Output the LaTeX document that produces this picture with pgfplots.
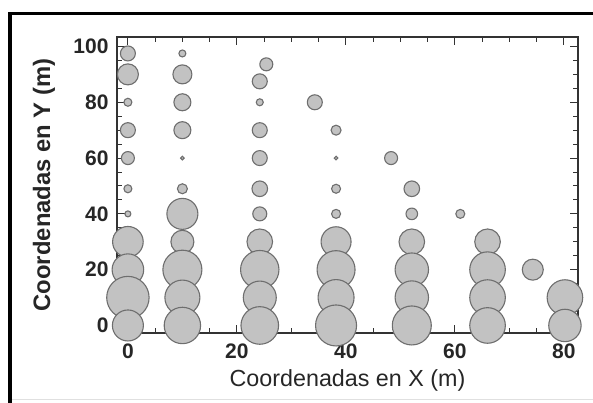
\documentclass[border=0pt]{standalone}
\usepackage{fontspec}
\setmainfont{Liberation Sans}
\usepackage{pgfplots}
\pgfplotsset{compat=1.18}
\usepackage{pgfplotstable}

\definecolor{bubfill}{HTML}{C2C2C2}
\definecolor{bubedge}{HTML}{6E6E6E}
\definecolor{axcol}{HTML}{333333}

% x y radio(px)
\pgfplotstableread{
x y r
0 97.5 7.5
0 90 10.5
0 80 4
0 70 7.5
0 60 6.5
0 49 4
0 40 3
0 30 15.3
0 20 15.8
0 10 21.2
0 0 15.5
10 97.5 3.5
10 90 9.5
10 80 8.5
10 70 8.5
10 60 1.8
10 49 5
10 40 15.5
10 30 11.5
10 20 19.5
10 10 17.5
10 0 18.2
25.4 93.6 6.5
24.2 87.5 7.5
24.2 80 3.5
24.2 70 7.5
24.2 60 7.5
24.2 49 7.8
24.2 40 7
24.2 30 12.8
24.2 20 19.2
24.2 10 16.5
24.2 0 18.8
34.3 80 7.5
38.2 70 5
38.2 60 1.8
38.2 49 4.5
38.2 40 4.5
38.2 30 15
38.2 20 19
38.2 10 18
38.2 0 20.5
48.3 60 6.5
52.1 49 7.8
52.1 40 5.8
52.1 30 12.8
52.1 20 16.7
52.1 10 16.7
52.1 0 19.5
61 40 4.5
66 30 12.8
66 20 17.8
66 10 17.8
66 0 17.8
74.3 20 10.5
80.2 10 17.8
80.2 0 16.2
}\bubbles

\begin{document}
\begin{tikzpicture}[x=1pt,y=1pt]
\path[use as bounding box] (0,0) rectangle (593,403);
% marco
\fill[black] (8.3,0) rectangle (12.3,391);
\fill[black] (8.3,388) rectangle (593,391);
\fill[black!12] (12.3,2.5) rectangle (593,3.5);
\begin{axis}[
  at={(117pt,70pt)}, anchor=south west,
  scale only axis, width=461pt, height=296pt,
  xmin=-2, xmax=82.6, ymin=-2.7, ymax=103.4,
  xtick={0,20,...,80}, ytick={0,20,...,100},
  minor x tick num=3, minor y tick num=3,
  tick align=inside,
  major tick length=8pt, minor tick length=5pt,
  axis line style={axcol, line width=1.2pt},
  tick style={axcol, line width=1pt},
  clip=false,
  /pgf/number format/assume math mode=true,
  ticklabel style={font=\fontsize{21}{24}\selectfont\bfseries, text=black!85},
  yticklabel style={xshift=-5pt},
  xticklabel style={yshift=-7pt},
  xlabel={Coordenadas en X (m)},
  ylabel={Coordenadas en Y (m)},
  xlabel style={at={(axis description cs:0.5,-0.1588)}, anchor=center, font=\fontsize{23.3}{28}\selectfont, text=black!85},
  ylabel style={at={(axis description cs:-0.1584,0.5)}, anchor=center, font=\fontsize{23.8}{28}\selectfont\bfseries, text=black!85},
]
\addplot[scatter, only marks, mark=*,
  scatter/use mapped color={draw=bubedge, fill=bubfill},
  line width=1.1pt,
  visualization depends on={\thisrow{r} \as \rad},
  scatter/@pre marker code/.append style={/tikz/mark size=\rad}]
  table[x=x, y=y] {\bubbles};
\end{axis}
\end{tikzpicture}
\end{document}
